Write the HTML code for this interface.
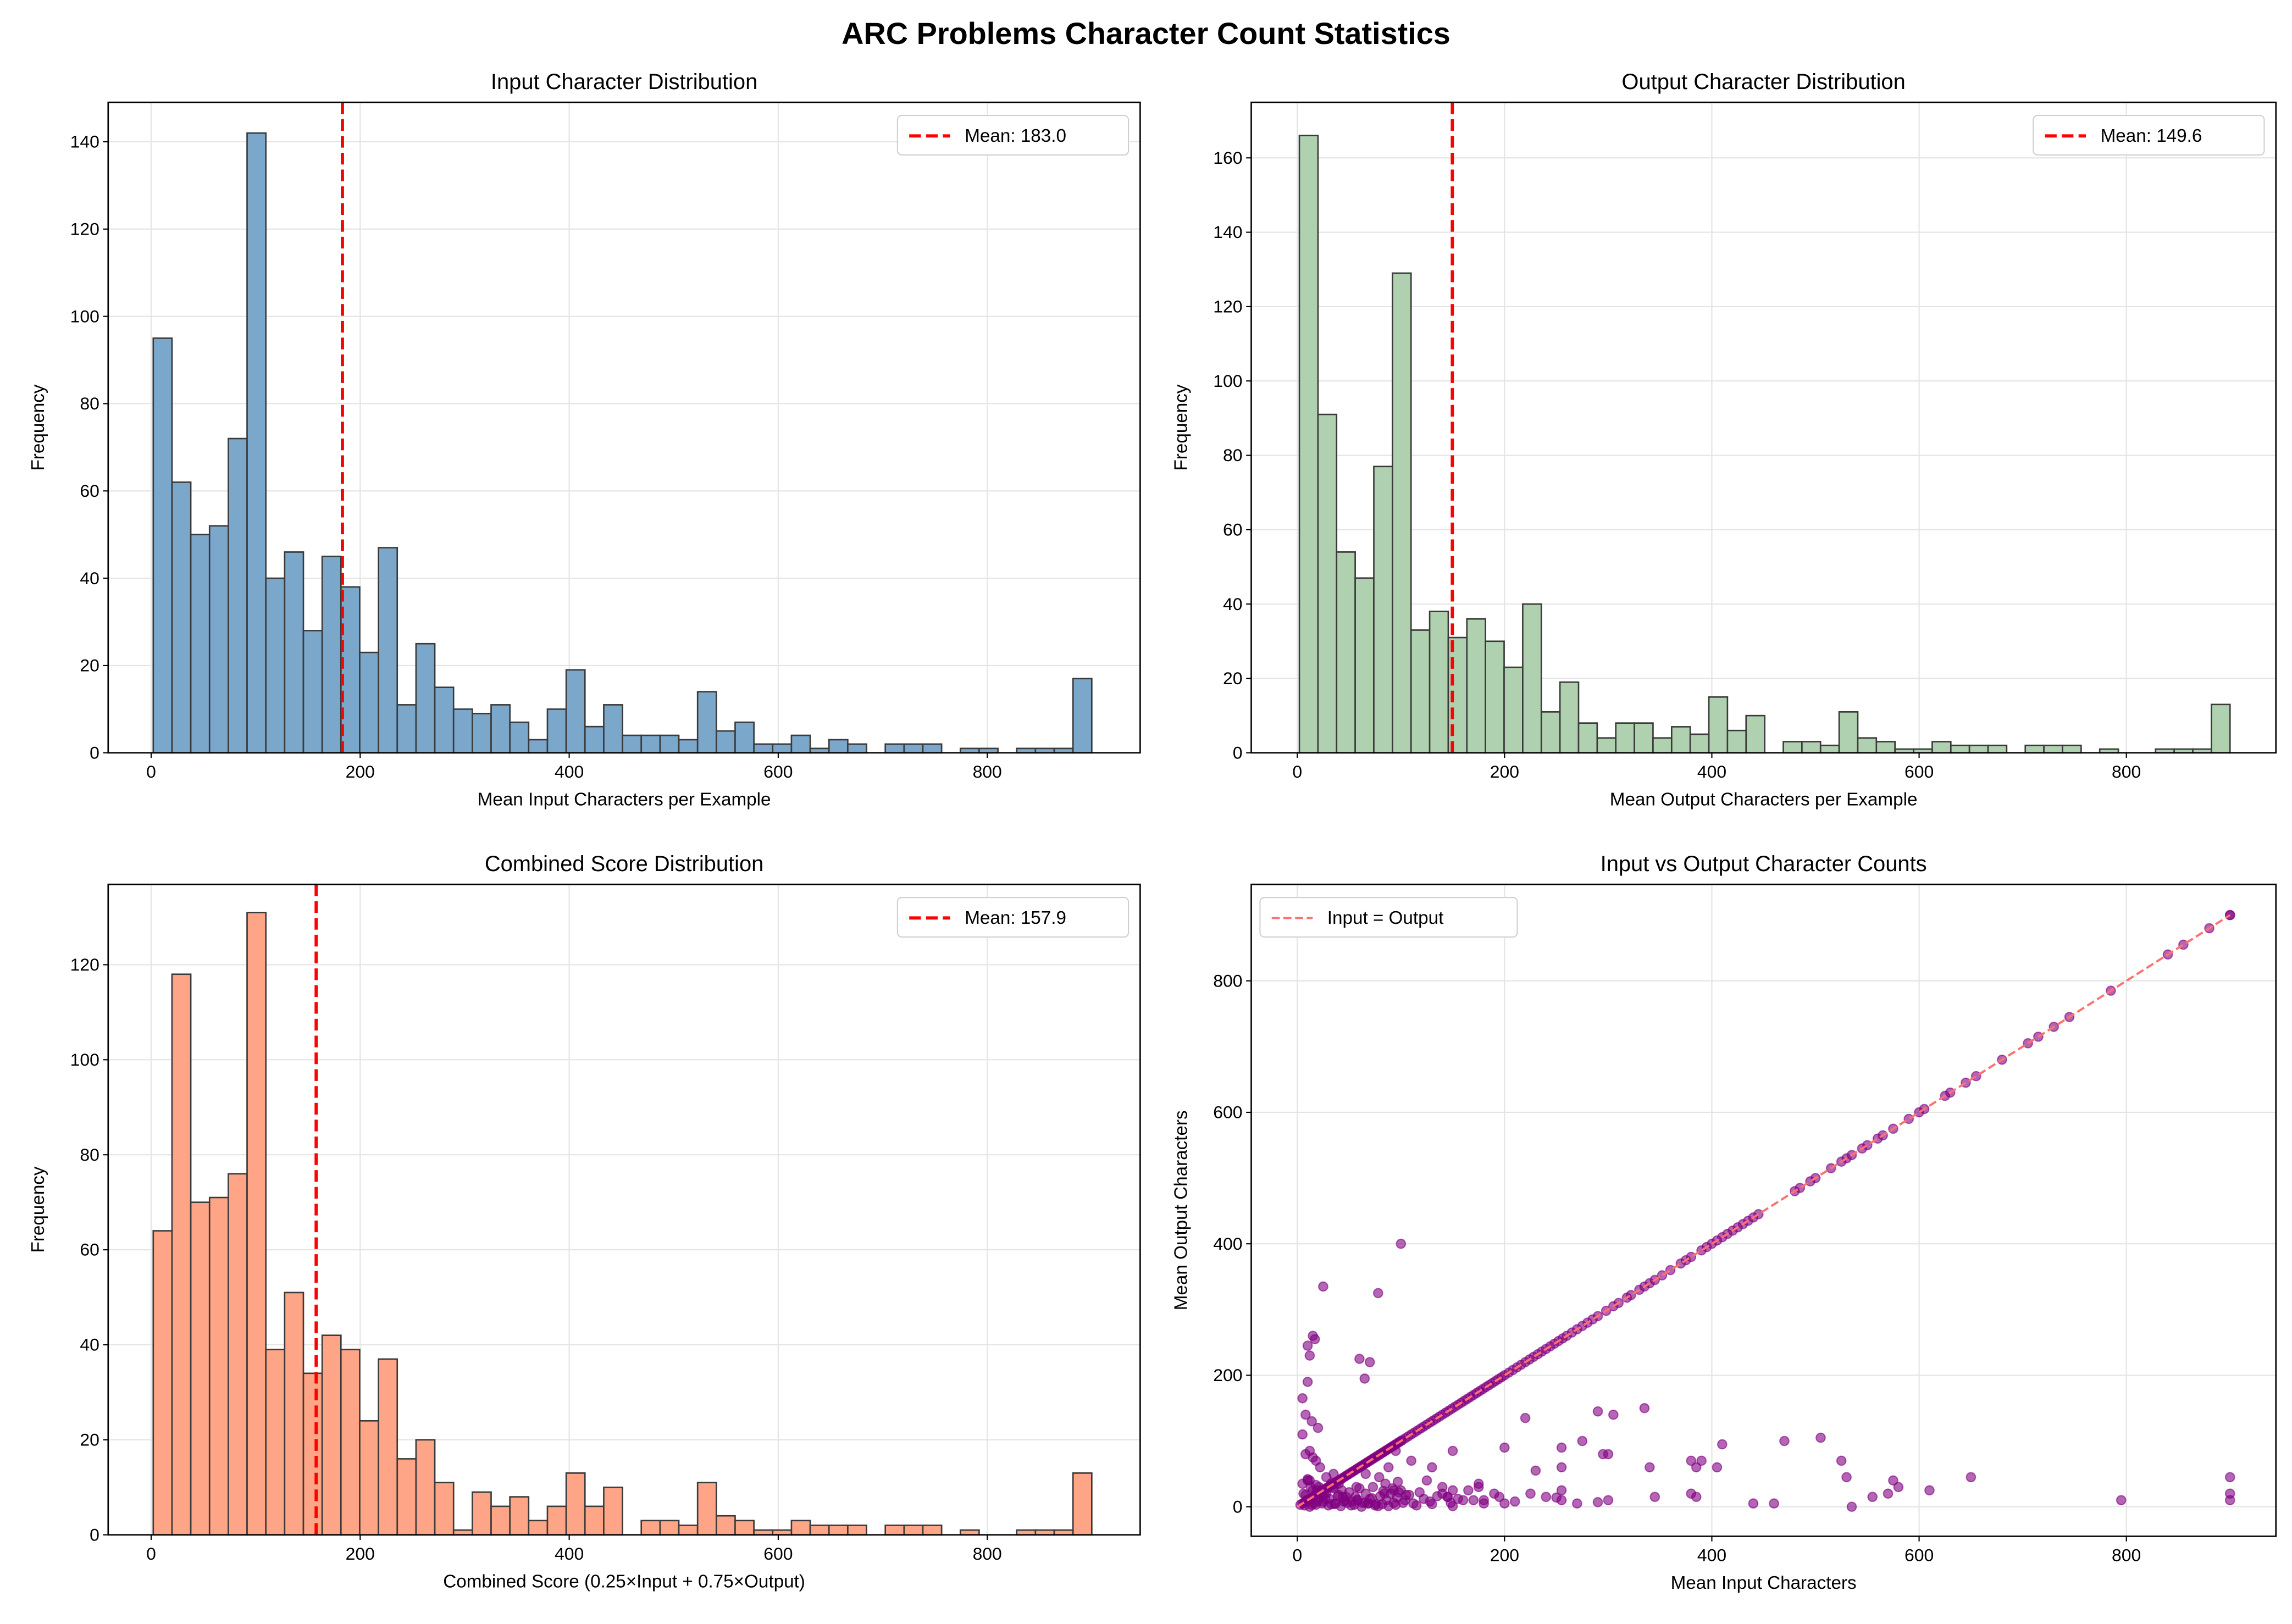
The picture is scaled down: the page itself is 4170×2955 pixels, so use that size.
<!DOCTYPE html>
<html><head><meta charset="utf-8"><style>
html,body{margin:0;padding:0;background:#fff;}
svg{display:block;font-family:"Liberation Sans",sans-serif;}
</style></head><body>
<svg id="fig" xmlns="http://www.w3.org/2000/svg" width="4170" height="2955" viewBox="0 0 1568 1111" preserveAspectRatio="none">
<rect width="1568" height="1111" fill="#fff"/>
<text x="784" y="30" text-anchor="middle" font-size="21" font-weight="bold">ARC Problems Character Count Statistics</text>
</svg>
<script>
const inputCounts=[95,62,50,52,72,142,40,46,28,45,38,23,47,11,25,15,10,9,11,7,3,10,19,6,11,4,4,4,3,14,5,7,2,2,4,1,3,2,0,2,2,2,0,1,1,0,1,1,1,17];
const outputCounts=[166,91,54,47,77,129,33,38,31,36,30,23,40,11,19,8,4,8,8,4,7,5,15,6,10,0,3,3,2,11,4,3,1,1,3,2,2,2,0,2,2,2,0,1,0,0,1,1,1,13];
const combinedCounts=[64,118,70,71,76,131,39,51,34,42,39,24,37,16,20,11,1,9,6,8,3,6,13,6,10,0,3,3,2,11,4,3,1,1,3,2,2,2,0,2,2,2,0,1,0,0,1,1,1,13];
const binMin=2, binMax=900;
const means=[183.0,149.6,157.9];
const histYTicks=[[0,20,40,60,80,100,120,140],[0,20,40,60,80,100,120,140,160],[0,20,40,60,80,100,120]];
const xTicks=[0,200,400,600,800];
const scatterYTicks=[0,200,400,600,800];
const diagVals=[3,5,7,8,10,11,13,14,16,17,19,20,22,23,25,26,28,29,31,32,34,35,37,38,40,41,43,44,46,47,49,50,52,53,55,56,58,59,61,62,64,65,67,68,70,71,73,74,76,77,79,80,82,83,85,86,88,89,91,92,94,95,97,98,100,101,104,107,110,113,116,119,122,125,128,131,134,137,140,143,146,149,152,155,158,161,164,167,170,173,176,179,182,185,188,191,194,197,200,204,208,212,216,220,224,228,232,236,240,244,248,252,256,260,265,270,275,280,285,290,298,305,310,318,322,330,335,340,345,352,360,370,375,380,390,395,400,405,410,415,420,425,430,435,440,445,480,485,495,500,515,525,530,535,545,550,560,565,575,590,600,605,625,630,645,655,680,705,715,730,745,785,840,855,880,900,900];
const offIn=[5,10,12,15,17,10,25,8,14,20,12,8,15,18,22,10,5,28,30,35,40,60,65,70,78,100,95,110,130,150,125,220,200,230,255,275,290,305,300,335,340,380,390,405,410,470,505,525,530,575,580,610,650,795,900,900,900,440,460,535,555,570,385,345,270,255,240,300,175,190,145,160,
 6,9,13,16,19,22,25,28,31,34,37,40,43,46,50,53,56,60,63,66,70,73,76,80,83,86,90,93,96,100,104,108,112,118,122,128,135,140,148,155,165,180,195,210,225,7,12,18,24,30,36,42,48,55,62,68,75,82,88,95,102,115,130,150,170,200,250,290,
 8,14,20,27,33,39,45,52,58,65,72,78,85,92,98,105,12,18,24,33,44,57,66,79,88,97,10,15,21,26,35,47,58,69,84,93,140,145,150,175,180,255,255,295,380,385,5,8,11,9,14];
const offOut=[165,245,230,260,255,190,335,140,130,120,85,80,75,70,60,40,35,45,30,50,35,225,195,220,325,400,85,70,60,85,40,135,90,55,60,100,145,140,80,150,60,20,70,60,95,100,105,70,45,40,30,25,45,10,45,20,10,5,5,0,15,20,15,15,5,25,15,10,35,20,15,10,
 20,10,30,5,25,15,8,20,12,30,5,18,25,10,22,8,15,28,6,20,12,30,4,16,24,10,20,6,14,25,10,18,5,22,12,8,16,20,6,12,25,10,15,8,20,2,0,3,5,2,4,1,6,3,0,5,2,4,1,3,6,2,4,1,
 10,5,14,7,18,3,9,12,4,16,8,2,11,6,13,1,35,28,22,18,40,33,26,36,15,30,50,45,60,38,42,25,30,20,28,15,10,5,20,25,30,15,25,30,5,10,90,80,70,60,110];

const svg=document.getElementById('fig');
const NS='http://www.w3.org/2000/svg';
function mk(tag,attrs,parent,text){const e=document.createElementNS(NS,tag);for(const k in attrs)e.setAttribute(k,attrs[k]);if(text!==undefined)e.textContent=text;(parent||svg).appendChild(e);return e;}

const panels=[
 {L:74,R:780,T:70,B:515,x0:103.4,xs:0.715,y0:515,ys:(515-97)/140,counts:inputCounts,fill:'#7ba7cb',title:'Input Character Distribution',xl:'Mean Input Characters per Example',name:'input'},
 {L:856,R:1557,T:70,B:515,x0:887.5,xs:0.709,y0:515,ys:(515-108)/160,counts:outputCounts,fill:'#b0d1b0',title:'Output Character Distribution',xl:'Mean Output Characters per Example',name:'output'},
 {L:74,R:780,T:605,B:1050,x0:103.4,xs:0.715,y0:1050,ys:(1050-660)/120,counts:combinedCounts,fill:'#fda586',title:'Combined Score Distribution',xl:'Combined Score (0.25×Input + 0.75×Output)',name:'combined'}
];

function axesFrame(p,g,yt){
  const X=v=>p.x0+v*p.xs, Y=v=>p.y0-v*p.ys;
  xTicks.forEach(t=>{mk('line',{x1:X(t),x2:X(t),y1:p.T,y2:p.B,stroke:'#e4e4e4','stroke-width':0.8},g);});
  yt.forEach(t=>{mk('line',{x1:p.L,x2:p.R,y1:Y(t),y2:Y(t),stroke:'#e4e4e4','stroke-width':0.8},g);});
  return {X,Y};
}
function axesDecor(p,g,yt,xlab,ylab,title){
  const X=v=>p.x0+v*p.xs, Y=v=>p.y0-v*p.ys;
  mk('rect',{x:p.L,y:p.T,width:p.R-p.L,height:p.B-p.T,fill:'none',stroke:'#000','stroke-width':1},g);
  xTicks.forEach(t=>{mk('line',{x1:X(t),x2:X(t),y1:p.B,y2:p.B+3.5,stroke:'#000','stroke-width':0.8},g);
    const tl=mk('text',{x:X(t),y:p.B+17,'text-anchor':'middle','font-size':12},g,String(t));
    
    });
  yt.forEach(t=>{mk('line',{x1:p.L-3.5,x2:p.L,y1:Y(t),y2:Y(t),stroke:'#000','stroke-width':0.8},g);
    const tl=mk('text',{x:p.L-6,y:Y(t)+4,'text-anchor':'end','font-size':12},g,String(t));
    
    });
  const xt=mk('text',{x:(p.L+p.R)/2,y:p.B+36,'text-anchor':'middle','font-size':12.5},g,xlab);
  
  
  const yy=(p.T+p.B)/2, yx=p.L-(yt[yt.length-1]>=100?44:48);
  const ytl=mk('text',{x:yx,y:yy,'text-anchor':'middle','font-size':12.5,transform:`rotate(-90 ${yx} ${yy})`},g,ylab);
  
  
  const tt=mk('text',{x:(p.L+p.R)/2,y:p.T-9,'text-anchor':'middle','font-size':15},g,title);
  
  
}

panels.forEach((p,i)=>{
  const g=mk('g',{});
  
  
  const {X,Y}=axesFrame(p,g,histYTicks[i]);
  const n=p.counts.length, w=(binMax-binMin)/n;
  p.counts.forEach((c,k)=>{
    if(c<=0)return;
    const b=mk('rect',{x:X(binMin+k*w),y:Y(c),width:w*p.xs,height:c*p.ys,fill:p.fill,stroke:'#3a3a3a','stroke-width':1},g);
    
    
  });
  const ml=mk('line',{x1:X(means[i]),x2:X(means[i]),y1:p.T,y2:p.B,stroke:'#f00','stroke-width':2.2,'stroke-dasharray':'8,3.5'},g);
  
  
  axesDecor(p,g,histYTicks[i],p.xl,'Frequency',p.title);
  const lg=mk('g',{},g);
  
  
  const lx=p.R-166, ly=p.T+9;
  mk('rect',{x:lx,y:ly,width:158,height:27,rx:3,fill:'#fff',stroke:'#d0d0d0','stroke-width':0.8},lg);
  mk('line',{x1:lx+8,x2:lx+36,y1:ly+14,y2:ly+14,stroke:'#f00','stroke-width':2.2,'stroke-dasharray':'8,3.5'},lg);
  const lt=mk('text',{x:lx+46,y:ly+18,'font-size':12.5},lg,'Mean: '+means[i].toFixed(1));
  
  
});

(function(){
  const p={L:856,R:1557,T:605,B:1051,x0:887.5,xs:0.709,y0:1030.8,ys:(1030.8-671)/800};
  const g=mk('g',{});
  
  
  const {X,Y}=axesFrame(p,g,scatterYTicks);
  const pts=[];
  diagVals.forEach(v=>pts.push([v,v]));
  offIn.forEach((v,k)=>{if(offOut[k]!==undefined)pts.push([v,offOut[k]]);});
  pts.forEach(([a,b])=>{
    const c=mk('circle',{cx:X(a),cy:Y(b),r:3.1,fill:'#800080','fill-opacity':0.6,stroke:'#800080','stroke-opacity':0.6,'stroke-width':0.8},g);
    
    
  });
  const dl=mk('line',{x1:X(0),y1:Y(0),x2:X(900),y2:Y(900),stroke:'#ff7070','stroke-width':1.5,'stroke-dasharray':'5.5,2.5'},g);
  
  
  axesDecor(p,g,scatterYTicks,'Mean Input Characters','Mean Output Characters','Input vs Output Character Counts');
  const lg=mk('g',{},g);
  
  
  const lx=p.L+6, ly=p.T+9;
  mk('rect',{x:lx,y:ly,width:176,height:27,rx:3,fill:'#fff',stroke:'#d0d0d0','stroke-width':0.8},lg);
  mk('line',{x1:lx+8,x2:lx+36,y1:ly+14,y2:ly+14,stroke:'#ff7070','stroke-width':1.5,'stroke-dasharray':'5.5,2.5'},lg);
  const lt=mk('text',{x:lx+46,y:ly+18,'font-size':12.5},lg,'Input = Output');
  
  
})();
</script>
</body></html>
